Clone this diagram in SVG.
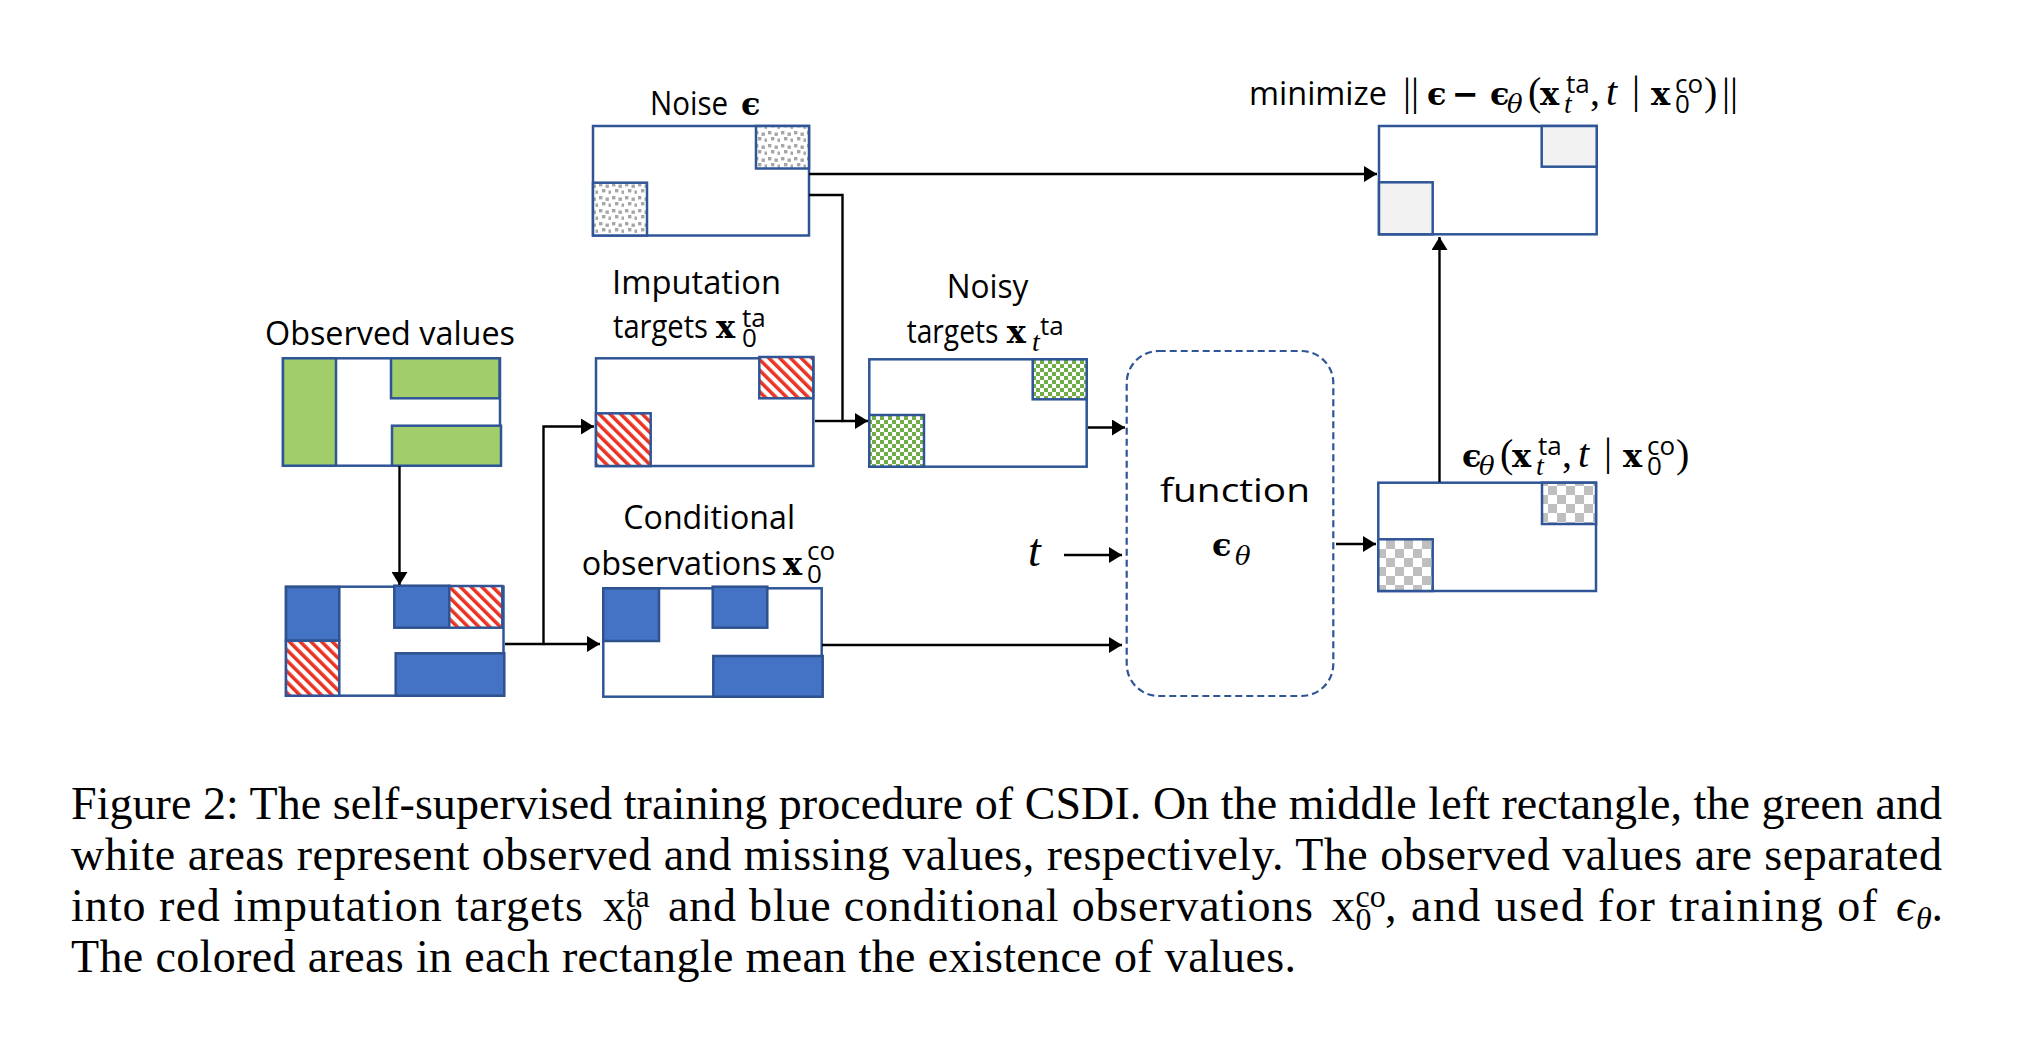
<svg xmlns="http://www.w3.org/2000/svg" width="2034" height="1046" viewBox="0 0 2034 1046">
<defs>
<style>
.box{fill:#fff;stroke:#2F5597;stroke-width:2.5}
.cell{stroke:#2F5597;stroke-width:2.5}
.blue{fill:#4472C4;stroke:#2F528F;stroke-width:2.5}
.grn{fill:#A1CE6B;stroke:#2F5597;stroke-width:2.5}
.lbl{font-family:'Open Sans',sans-serif;font-size:32px;fill:#000}
.mb{font-family:'DejaVu Serif',serif;font-weight:bold;font-size:32px;fill:#000}
.mr{font-family:'Liberation Serif','DejaVu Serif',serif;font-size:40px;fill:#000}
.mi{font-family:'Liberation Serif','DejaVu Serif',serif;font-style:italic;fill:#000}
.gi{font-family:'DejaVu Serif',serif;font-style:italic;font-size:26px;fill:#000}
.ms{font-family:'Open Sans',sans-serif;font-size:26px;fill:#000}
.conn{fill:none;stroke:#000;stroke-width:2.4}
.cap{font-family:'Liberation Serif','DejaVu Serif',serif;font-size:46px;fill:#000}
.cs{font-family:'Liberation Serif','DejaVu Serif',serif;font-size:32px;fill:#000}
</style>
<marker id="ah" markerUnits="userSpaceOnUse" markerWidth="14" markerHeight="16" refX="13" refY="8" orient="auto"><path d="M0,0 L13,8 L0,16 z" fill="#000"/></marker>
<pattern id="hatch" patternUnits="userSpaceOnUse" width="7.6" height="7.6" patternTransform="rotate(-45)"><rect width="7.6" height="7.6" fill="#fff"/><rect width="3.5" height="7.6" fill="#EA3323"/></pattern>
<pattern id="gchk" patternUnits="userSpaceOnUse" width="8" height="8"><rect width="8" height="8" fill="#fff"/><rect width="4" height="4" fill="#70AD47"/><rect x="4" y="4" width="4" height="4" fill="#70AD47"/></pattern>
<pattern id="kchk" patternUnits="userSpaceOnUse" width="18" height="18"><rect width="18" height="18" fill="#fff"/><rect width="9" height="9" fill="#BFBFBF"/><rect x="9" y="9" width="9" height="9" fill="#BFBFBF"/></pattern>
<pattern id="conf" patternUnits="userSpaceOnUse" width="13" height="13"><rect width="13" height="13" fill="#fff"/><g fill="#A6A6A6"><rect x="1" y="1" width="3.4" height="3.4"/><rect x="7.5" y="2.5" width="3.4" height="3.4"/><rect x="4" y="7" width="3.4" height="3.4"/><rect x="10.5" y="8.5" width="3.4" height="3.4"/></g></pattern>
</defs>
<rect width="2034" height="1046" fill="#fff"/>

<g id="noise">
<text class="lbl" x="650" y="115" textLength="78" lengthAdjust="spacingAndGlyphs">Noise</text>
<text class="mb" x="741" y="115" font-size="36">ϵ</text>
<rect class="box" x="593" y="126" width="216" height="109.5"/>
<rect class="cell" fill="url(#conf)" x="756" y="126" width="53" height="42.5"/>
<rect class="cell" fill="url(#conf)" x="593" y="182.7" width="54" height="52.8"/>
</g>

<g id="minimize">
<text class="lbl" x="1249" y="105" textLength="138" lengthAdjust="spacingAndGlyphs">minimize</text>
<text class="mr" x="1403" y="105">||</text>
<text class="mb" x="1427" y="105">ϵ</text>
<text class="mb" x="1452" y="105" font-weight="normal">−</text>
<text class="mb" x="1490" y="105">ϵ</text>
<text class="gi" x="1507" y="113">θ</text>
<text class="mr" x="1528" y="105">(</text>
<text class="mb" x="1540" y="105">x</text>
<text class="mi" x="1564" y="113" font-size="28">t</text>
<text class="ms" x="1566" y="93">ta</text>
<text class="mr" x="1590" y="105">,</text>
<text class="mi" x="1606" y="105" font-size="40">t</text>
<text class="mr" x="1632" y="103" font-size="30">|</text>
<text class="mb" x="1651" y="105">x</text>
<text class="ms" x="1675" y="113">0</text>
<text class="ms" x="1675" y="93">co</text>
<text class="mr" x="1704" y="105">)</text>
<text class="mr" x="1722" y="105">||</text>
<rect class="box" x="1379" y="126" width="217.7" height="108.3"/>
<rect class="cell" fill="#F2F2F2" x="1541.7" y="126" width="55" height="40.7"/>
<rect class="cell" fill="#F2F2F2" x="1379" y="182.3" width="53.7" height="52"/>
</g>

<g id="observed">
<text class="lbl" x="265" y="345" textLength="250" lengthAdjust="spacingAndGlyphs">Observed values</text>
<rect class="box" x="283" y="358.3" width="217" height="107.4"/>
<rect class="grn" x="283" y="358.3" width="53" height="107.4"/>
<rect class="grn" x="391" y="358.3" width="108.5" height="40"/>
<rect class="grn" x="392" y="425.7" width="109" height="40"/>
</g>

<g id="split">
<rect class="box" x="286" y="586.7" width="217.5" height="109"/>
<rect class="blue" x="286" y="587" width="53.3" height="53.7"/>
<rect class="cell" fill="url(#hatch)" x="286" y="640.7" width="53.3" height="55"/>
<rect class="blue" x="394.3" y="585.7" width="55" height="42"/>
<rect class="cell" fill="url(#hatch)" x="449.3" y="586" width="53" height="41.7"/>
<rect class="blue" x="395.7" y="653.3" width="108.6" height="42.4"/>
</g>

<g id="imputation">
<text class="lbl" x="696.5" y="294" text-anchor="middle" textLength="169" lengthAdjust="spacingAndGlyphs">Imputation</text>
<text class="lbl" x="613" y="338" textLength="95" lengthAdjust="spacingAndGlyphs">targets</text>
<text class="mb" x="716" y="338">x</text>
<text class="ms" x="742" y="347">0</text>
<text class="ms" x="742" y="327">ta</text>
<rect class="box" x="596" y="358.3" width="217.3" height="107.7"/>
<rect class="cell" fill="url(#hatch)" x="759.3" y="357" width="54" height="41.3"/>
<rect class="cell" fill="url(#hatch)" x="596" y="413.3" width="54.7" height="52.7"/>
</g>

<g id="noisy">
<text class="lbl" x="987.5" y="298" text-anchor="middle" textLength="81.7" lengthAdjust="spacingAndGlyphs">Noisy</text>
<text class="lbl" x="906.7" y="342.7" textLength="91.7" lengthAdjust="spacingAndGlyphs">targets</text>
<text class="mb" x="1006.7" y="342.7">x</text>
<text class="mi" x="1032" y="351" font-size="28">t</text>
<text class="ms" x="1040" y="335">ta</text>
<rect class="box" x="869.3" y="359.3" width="217.4" height="107.4"/>
<rect class="cell" fill="url(#gchk)" x="1032.7" y="359.3" width="54" height="40"/>
<rect class="cell" fill="url(#gchk)" x="869.3" y="415" width="54.7" height="51.7"/>
</g>

<g id="conditional">
<text class="lbl" x="623.3" y="529.3" textLength="171.7" lengthAdjust="spacingAndGlyphs">Conditional</text>
<text class="lbl" x="581.7" y="575" textLength="195" lengthAdjust="spacingAndGlyphs">observations</text>
<text class="mb" x="783" y="575">x</text>
<text class="ms" x="807" y="583">0</text>
<text class="ms" x="807" y="560">co</text>
<rect class="box" x="603.3" y="588.3" width="218.4" height="108.4"/>
<rect class="blue" x="603.3" y="588.3" width="55.7" height="52.7"/>
<rect class="blue" x="712.7" y="586.7" width="54.6" height="41"/>
<rect class="blue" x="713.3" y="656" width="109.4" height="40.7"/>
</g>

<g id="t-input">
<text class="mi" x="1028" y="566" font-size="46">t</text>
</g>

<g id="function">
<rect x="1126.7" y="351" width="206.6" height="345" rx="32" ry="32" fill="none" stroke="#2F5597" stroke-width="2.2" stroke-dasharray="7 4"/>
<text class="lbl" x="1235" y="501.7" font-size="39" text-anchor="middle" textLength="150" lengthAdjust="spacingAndGlyphs">function</text>
<text class="mb" x="1212" y="556" font-size="42">ϵ</text>
<text class="gi" x="1235" y="565" font-size="32">θ</text>
</g>

<g id="output">
<text class="mb" x="1462" y="466.7">ϵ</text>
<text class="gi" x="1479" y="475">θ</text>
<text class="mr" x="1500" y="466.7">(</text>
<text class="mb" x="1512" y="466.7">x</text>
<text class="mi" x="1536" y="475" font-size="28">t</text>
<text class="ms" x="1538" y="455">ta</text>
<text class="mr" x="1562" y="466.7">,</text>
<text class="mi" x="1578" y="466.7" font-size="40">t</text>
<text class="mr" x="1604" y="464.7" font-size="30">|</text>
<text class="mb" x="1623" y="466.7">x</text>
<text class="ms" x="1647" y="475">0</text>
<text class="ms" x="1647" y="455">co</text>
<text class="mr" x="1676" y="466.7">)</text>
<rect class="box" x="1378.3" y="482.7" width="217.7" height="108.3"/>
<rect class="cell" fill="url(#kchk)" x="1542" y="482.7" width="54" height="41.3"/>
<rect class="cell" fill="url(#kchk)" x="1378.3" y="539.3" width="54.4" height="51.7"/>
</g>

<g id="connectors">
<path class="conn" d="M809,174 H1377" marker-end="url(#ah)"/>
<path class="conn" d="M809,195 H842.5 V421 H868" marker-end="url(#ah)"/>
<path class="conn" d="M815,421 H842.5"/>
<path class="conn" d="M399.5,466 V585" marker-end="url(#ah)"/>
<path class="conn" d="M505,644 H543.5 V426.5 H594" marker-end="url(#ah)"/>
<path class="conn" d="M543.5,644 H600" marker-end="url(#ah)"/>
<path class="conn" d="M1088,427.5 H1125" marker-end="url(#ah)"/>
<path class="conn" d="M1064,555 H1122" marker-end="url(#ah)"/>
<path class="conn" d="M822,645 H1122" marker-end="url(#ah)"/>
<path class="conn" d="M1336,544 H1376" marker-end="url(#ah)"/>
<path class="conn" d="M1439.5,482 V237" marker-end="url(#ah)"/>
</g>

<g id="caption">
<text class="cap" x="71" y="819" textLength="1871" lengthAdjust="spacing">Figure 2: The self-supervised training procedure of CSDI. On the middle left rectangle, the green and</text>
<text class="cap" x="71" y="870" textLength="1871" lengthAdjust="spacing">white areas represent observed and missing values, respectively. The observed values are separated</text>
<text class="cap" x="71" y="921" textLength="512" lengthAdjust="spacing">into red imputation targets</text>
<text class="cap" x="603" y="921">x</text>
<text class="cs" x="626.5" y="907">ta</text>
<text class="cs" x="626.5" y="930">0</text>
<text class="cap" x="668" y="921" textLength="645" lengthAdjust="spacing">and blue conditional observations</text>
<text class="cap" x="1332" y="921">x</text>
<text class="cs" x="1355.5" y="907">co</text>
<text class="cs" x="1355.5" y="930">0</text>
<text class="cap" x="1385" y="921" textLength="492" lengthAdjust="spacing">, and used for training of</text>
<text class="cap" x="1896" y="921" font-style="italic">ϵ</text>
<text class="cs" x="1916" y="929" font-style="italic">θ</text>
<text class="cap" x="1931.5" y="921">.</text>
<text class="cap" x="71" y="972" textLength="1225" lengthAdjust="spacing">The colored areas in each rectangle mean the existence of values.</text>
</g>
</svg>
